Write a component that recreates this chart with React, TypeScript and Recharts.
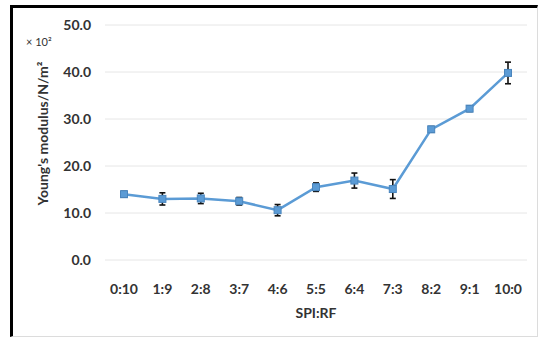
import React from "react";
import { LineChart, Line, XAxis, YAxis, CartesianGrid, ErrorBar } from "recharts";

const ratios = ["0:10", "1:9", "2:8", "3:7", "4:6", "5:5", "6:4", "7:3", "8:2", "9:1", "10:0"];
const modulus = [14.0, 13.0, 13.1, 12.5, 10.6, 15.5, 16.9, 15.1, 27.8, 32.2, 39.8];
const modulusErr = [0.6, 1.3, 1.1, 0.8, 1.2, 0.9, 1.6, 2.0, 0.6, 0.6, 2.3];
const yTicks = [0, 10, 20, 30, 40, 50];

const data = ratios.map((ratio, i) => ({ ratio, value: modulus[i], err: modulusErr[i] }));

const FONT = "Lato, 'Open Sans', sans-serif";
const TEXT = "#333333";
const BLUE = "#5B9BD5";

const SquareDot = (props: any) => {
  const { cx, cy, key } = props;
  if (cx == null || cy == null) return null;
  return <rect key={key} x={cx - 3.5} y={cy - 3.5} width={7} height={7} fill={BLUE} stroke="#4a85bd" strokeWidth={1} />;
};

// rotated axis title plus the "× 10²" multiplier above it
const YTitle = (props: any) => {
  const { viewBox } = props;
  const cx = viewBox.x + 42;
  const cy = viewBox.y + viewBox.height / 2 - 9;
  return (
    <g fontFamily={FONT} fill={TEXT} fontWeight="bold">
      <text x={cx} y={cy} transform={`rotate(-90 ${cx} ${cy})`} textAnchor="middle" dominantBaseline="central" fontSize={14}>
        Young's modulus/N/m²
      </text>
      <text x={viewBox.x + 26} y={viewBox.y + 21} fontSize={11} fontWeight="normal">
        × 10²
      </text>
    </g>
  );
};

export default function App() {
  return (
    <div style={{ position: "absolute", left: 0, top: 0, width: 541, height: 338, background: "#fff" }}>
      <div
        style={{
          position: "absolute",
          left: 10,
          top: 5,
          right: 3,
          bottom: 1,
          borderTop: "3px solid #000",
          borderLeft: "3px solid #000",
          borderRight: "1px solid #dcdcdc",
          borderBottom: "1px solid #dcdcdc",
        }}
      />
      <div style={{ position: "absolute", left: 0, top: 0 }}>
        <LineChart width={541} height={338} data={data} margin={{ top: 25, right: 14, bottom: 0, left: 0 }}>
          <CartesianGrid vertical={false} stroke="#e6e6e6" strokeWidth={1} />
          <XAxis
            dataKey="ratio"
            height={78}
            padding={{ left: 19, right: 19 }}
            axisLine={false}
            tickLine={false}
            tickSize={0}
            tickMargin={24}
            interval={0}
            tick={{ fill: TEXT, fontSize: 14, fontWeight: "bold", fontFamily: FONT }}
            label={{
              value: "SPI:RF",
              position: "insideBottom",
              offset: 20,
              fill: TEXT,
              fontSize: 14,
              fontWeight: "bold",
              fontFamily: FONT,
            }}
          />
          <YAxis
            width={105}
            domain={[0, 50]}
            ticks={yTicks}
            axisLine={false}
            tickLine={false}
            tickSize={0}
            tickMargin={14}
            tickFormatter={(v: number) => v.toFixed(1)}
            tick={{ fill: TEXT, fontSize: 14, fontWeight: "bold", fontFamily: FONT }}
            label={<YTitle />}
          />
          <Line
            dataKey="value"
            stroke={BLUE}
            strokeWidth={2.5}
            dot={<SquareDot />}
            activeDot={false}
            isAnimationActive={false}
          >
            <ErrorBar dataKey="err" width={3} stroke="#111" strokeWidth={1.6} isAnimationActive={false} />
          </Line>
        </LineChart>
      </div>
    </div>
  );
}
